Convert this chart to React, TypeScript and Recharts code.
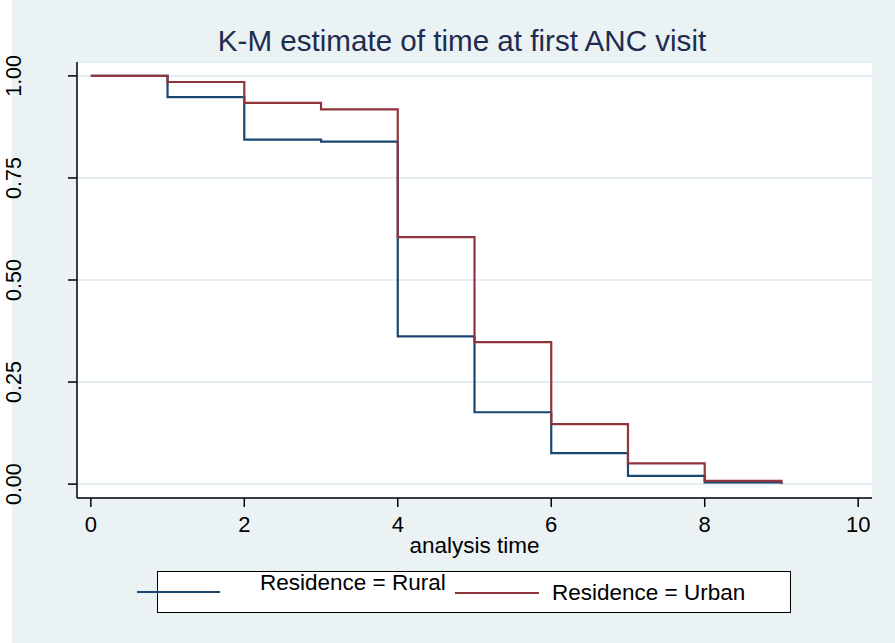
import React from 'react';
import { LineChart, Line, XAxis, YAxis, CartesianGrid } from 'recharts';

const times = [0, 1, 2, 3, 4, 5, 6, 7, 8, 9];
const rural = [1.0, 0.948, 0.844, 0.839, 0.362, 0.176, 0.076, 0.02, 0.004, 0.0];
const urban = [1.0, 0.985, 0.934, 0.918, 0.605, 0.348, 0.147, 0.051, 0.008, 0.0];
const xTicks = [0, 2, 4, 6, 8, 10];
const yTicks = [0, 0.25, 0.5, 0.75, 1];
const title = 'K-M estimate of time at first ANC visit';
const xLabel = 'analysis time';
const seriesNames = ['Residence = Rural', 'Residence = Urban'];

const data = times.map((t, i) => ({ t, rural: rural[i], urban: urban[i] }));

const FONT = '"Liberation Sans", Arial, Helvetica, sans-serif';
const BLUE = '#1a476f';
const RED = '#90353b';
const BG = '#eaf2f3';

const YTick = (props: any) => {
  const { y, payload } = props;
  return (
    <text
      x={21}
      y={y}
      transform={`rotate(-90, 21, ${y})`}
      textAnchor="middle"
      fontFamily={FONT}
      fontSize={21.5}
      fill="#000"
    >
      {Number(payload.value).toFixed(2)}
    </text>
  );
};

const XLabel = (props: any) => {
  const vb = props.viewBox || {};
  return (
    <text
      x={vb.x + vb.width / 2}
      y={vb.y + 55}
      textAnchor="middle"
      fontFamily={FONT}
      fontSize={22.5}
      fill="#000"
    >
      {xLabel}
    </text>
  );
};

export default function App() {
  return (
    <div
      style={{
        position: 'absolute',
        left: 0,
        top: 0,
        width: 895,
        height: 643,
        background: '#fff',
        fontFamily: FONT,
        overflow: 'hidden',
      }}
    >
      <div style={{ position: 'absolute', left: 12, top: 0, width: 883, height: 643, background: BG }} />
      <div
        style={{
          position: 'absolute',
          left: 0,
          top: 24,
          width: 924,
          textAlign: 'center',
          fontSize: 29.6,
          color: '#1e2c4f',
          lineHeight: '34px',
          whiteSpace: 'nowrap',
        }}
      >
        {title}
      </div>
      <div style={{ position: 'absolute', left: 0, top: 0 }}>
        <LineChart width={895} height={643} data={data} margin={{ top: 62, right: 23, bottom: 85, left: 0 }}>
          <CartesianGrid vertical={false} horizontal={true} fill="#ffffff" stroke="#e4edef" strokeWidth={2} />
          <XAxis
            dataKey="t"
            type="number"
            domain={[-0.18, 10.18]}
            ticks={xTicks}
            allowDataOverflow
            height={60}
            tickSize={9}
            tickMargin={9}
            axisLine={{ stroke: '#000', strokeWidth: 1.5 }}
            tickLine={{ stroke: '#000', strokeWidth: 1.5 }}
            tick={{ fontSize: 22, fill: '#000', fontFamily: FONT }}
            label={<XLabel />}
          />
          <YAxis
            type="number"
            domain={[-0.034, 1.034]}
            ticks={yTicks}
            allowDataOverflow
            width={77}
            tickSize={9}
            axisLine={{ stroke: '#000', strokeWidth: 1.5 }}
            tickLine={{ stroke: '#000', strokeWidth: 1.5 }}
            tick={<YTick />}
          />
          <Line
            type="stepAfter"
            dataKey="rural"
            name={seriesNames[0]}
            stroke={BLUE}
            strokeWidth={2.2}
            dot={false}
            isAnimationActive={false}
          />
          <Line
            type="stepAfter"
            dataKey="urban"
            name={seriesNames[1]}
            stroke={RED}
            strokeWidth={2.2}
            dot={false}
            isAnimationActive={false}
          />
        </LineChart>
      </div>
      {/* legend */}
      <div
        style={{
          position: 'absolute',
          left: 157,
          top: 571,
          width: 632,
          height: 40,
          background: '#fff',
          border: '1px solid #000',
        }}
      />
      <div style={{ position: 'absolute', left: 137, top: 591, width: 83, height: 2, background: BLUE }} />
      <div
        style={{
          position: 'absolute',
          left: 260,
          top: 570,
          fontSize: 22.5,
          lineHeight: '26px',
          color: '#000',
          whiteSpace: 'nowrap',
        }}
      >
        {seriesNames[0]}
      </div>
      <div style={{ position: 'absolute', left: 455, top: 592, width: 84, height: 2, background: RED }} />
      <div
        style={{
          position: 'absolute',
          left: 552,
          top: 580,
          fontSize: 22.5,
          lineHeight: '26px',
          color: '#000',
          whiteSpace: 'nowrap',
        }}
      >
        {seriesNames[1]}
      </div>
    </div>
  );
}
